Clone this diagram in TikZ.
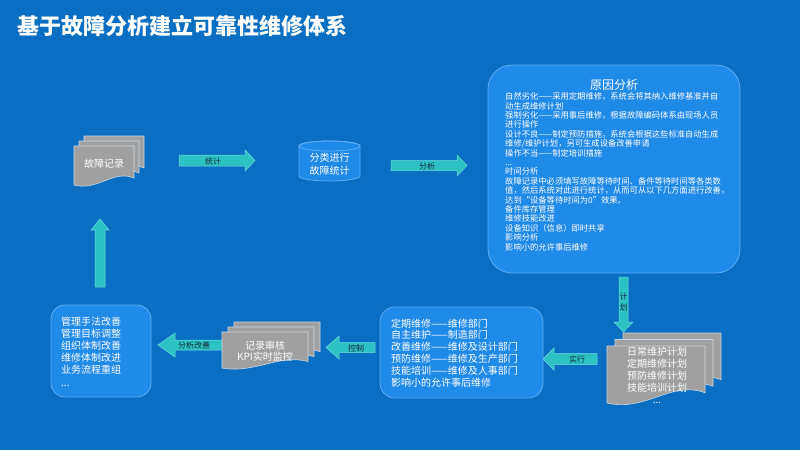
\documentclass[tikz,border=0pt]{standalone}
\usepackage{fontspec}
\setmainfont{Noto Sans CJK SC}
\definecolor{bg}{RGB}{10,111,194}
\definecolor{boxfill}{RGB}{32,138,232}
\definecolor{boxline}{RGB}{95,172,242}
\definecolor{arrowc}{RGB}{44,194,196}
\definecolor{arrowline}{RGB}{110,220,222}
\definecolor{docgray}{RGB}{160,160,160}
\definecolor{pgline}{RGB}{200,214,230}
\definecolor{labelc}{RGB}{22,42,58}
\tikzset{
 pg/.style={fill=docgray, draw=pgline, line width=0.6pt},
 bx/.style={fill=boxfill, draw=boxline, line width=0.8pt},
 barrow/.style={fill=arrowc, draw=arrowline, line width=0.5pt},
 alab/.style={text=labelc, font=\fontsize{8}{9.5}\selectfont, inner sep=0pt},
 wtxt/.style={text=white, inner sep=0pt},
}
\newcommand{\docpage}[4]{\filldraw[pg] (#1,#2) -- (#3,#2) -- (#3,{#4-0.18*(#4-#2)}) .. controls ({#3-0.35*(#3-#1)},{#4-0.4*(#4-#2)}) and ({#1+0.4*(#3-#1)},{#4+0.16*(#4-#2)}) .. (#1,#4) -- cycle;}
\begin{document}
\begin{tikzpicture}[x=1pt,y=-1pt]
\fill[bg] (0,0) rectangle (800,450);
\useasboundingbox (0,0) rectangle (800,450);

% title
\node[wtxt, anchor=west, font=\fontsize{22}{26}\selectfont\bfseries] (title) at (17,26) {基于故障分析建立可靠性维修体系};

% fault records (multi document)
\docpage{84}{136}{144}{175}
\docpage{79}{141}{139}{180}
\docpage{74}{146}{134}{185}
\node[wtxt, font=\fontsize{10}{12}\selectfont] (rec) at (104,164) {故障记录};

% arrow 统计
\filldraw[barrow] (179,155) -- (245,155) -- (245,150) -- (255,160.5) -- (245,171) -- (245,166) -- (179,166) -- cycle;
\node[alab] (l1) at (213,161) {统计};

% cylinder
\filldraw[bx] (299,146) -- (299,176) arc (180:0:30.5 and 5) -- (360,146) arc (0:-180:30.5 and 5) -- cycle;
\draw[boxline, line width=0.8pt] (329.5,146) ellipse (30.5 and 5);
\node[wtxt, align=center, font=\fontsize{10}{13}\selectfont] (cyl) at (329.5,164) {分类进行\\故障统计};

% arrow 分析
\filldraw[barrow] (391,160.5) -- (457,160.5) -- (457,155) -- (467,165.5) -- (457,176) -- (457,170.5) -- (391,170.5) -- cycle;
\node[alab] (l2) at (427,166) {分析};

% cause analysis box
\node[bx, rounded corners=24pt, minimum width=252pt, minimum height=208pt, inner sep=0pt] (cause) at (614,169) {};
\node[wtxt, font=\fontsize{12}{14}\selectfont] (causetitle) at (614,85) {原因分析};
\node[wtxt, anchor=north west, align=left, font=\fontsize{8.3}{9.4}\selectfont] (causetext) at (505,92.5) {自然劣化——采用定期维修，系统会将其纳入维修基准并自\\动生成维修计划\\强制劣化——采用事后维修，根据故障编码体系由现场人员\\进行操作\\设计不良——制定预防措施，系统会根据这些标准自动生成\\维修/维护计划，另可生成设备改善申请\\操作不当——制定培训措施\\...\\时间分析\\故障记录中必须填写故障等待时间、备件等待时间等各类数\\值，然后系统对此进行统计，从而可从以下几方面进行改善，\\达到“设备等待时间为0”效果。\\备件库存管理\\维修技能改进\\设备知识（信息）即时共享\\影响分析\\影响小的允许事后维修};

% arrow 计划 (down)
\filldraw[barrow] (619,277) -- (628,277) -- (628,322) -- (633,322) -- (623.5,332) -- (614,322) -- (619,322) -- cycle;
\node[alab, align=center, font=\fontsize{8}{11}\selectfont] (l3) at (623.5,302) {计\\划};

% plans (multi document)
\docpage{623}{333}{721}{390}
\docpage{615}{339.5}{713}{396.5}
\docpage{607}{346}{705}{403}
\node[wtxt, align=center, font=\fontsize{10}{12}\selectfont] (plans) at (657,375) {日常维护计划\\定期维修计划\\预防维修计划\\技能培训计划\\...};

% arrow 实行 (left)
\filldraw[barrow] (597,353.5) -- (554,353.5) -- (554,348) -- (543,359) -- (554,370) -- (554,364.5) -- (597,364.5) -- cycle;
\node[alab] (l4) at (577,359) {实行};

% maintenance departments box
\node[bx, rounded corners=15pt, minimum width=163pt, minimum height=91pt, inner sep=0pt] (dept) at (461.5,352.5) {};
\node[wtxt, anchor=north west, align=left, font=\fontsize{10}{11.8}\selectfont] (depttext) at (391,318.5) {定期维修——维修部门\\自主维护——制造部门\\改善维修——维修及设计部门\\预防维修——维修及生产部门\\技能培训——维修及人事部门\\影响小的允许事后维修};

% arrow 控制 (left)
\filldraw[barrow] (375,342.5) -- (339,342.5) -- (339,336) -- (326,347.5) -- (339,359) -- (339,352.5) -- (375,352.5) -- cycle;
\node[alab] (l5) at (356,348) {控制};

% arrow 分析改善 (left)
\filldraw[barrow] (224,340) -- (175,340) -- (175,333) -- (158,345) -- (175,357) -- (175,350) -- (224,350) -- cycle;
\node[alab] (l6) at (194,345) {分析改善};

% KPI (multi document)
\docpage{234}{322}{320}{358}
\docpage{228}{327}{314}{363}
\docpage{222}{332}{308}{368}
\node[wtxt, align=center, font=\fontsize{10}{11.5}\selectfont] (kpi) at (265,351) {记录审核\\KPI实时监控};

% improvement box
\node[bx, rounded corners=14pt, minimum width=100pt, minimum height=92pt, inner sep=0pt] (impr) at (101,351) {};
\node[wtxt, anchor=north west, align=left, font=\fontsize{10}{12.2}\selectfont] (imprtext) at (61,316.5) {管理手法改善\\管理目标调整\\组织体制改善\\维修体制改进\\业务流程重组\\...};

% up arrow
\filldraw[barrow] (95,287) -- (95,230) -- (91,230) -- (100,219) -- (109,230) -- (105,230) -- (105,287) -- cycle;
\end{tikzpicture}
\end{document}
